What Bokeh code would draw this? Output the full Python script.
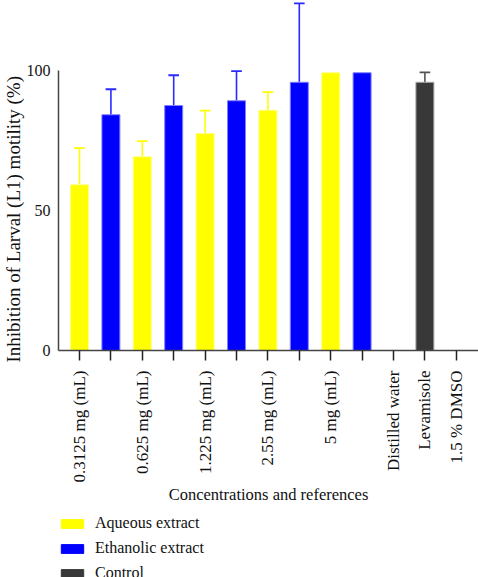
from bokeh.plotting import figure
from bokeh.models import (ColumnDataSource, FixedTicker, Legend, LegendItem,
                          Whisker, Range1d, Title)
from bokeh.layouts import column
from bokeh.embed import file_html
from bokeh.resources import INLINE

# ---- data ----
concentrations = ["0.3125 mg (mL)", "0.625 mg (mL)", "1.225 mg (mL)", "2.55 mg (mL)", "5 mg (mL)"]
aqueous = [59.2, 69.2, 77.5, 85.8, 99.2]
aqueous_err = [13.1, 5.6, 8.2, 6.5, 0.0]
ethanolic = [84.2, 87.5, 89.2, 95.8, 99.2]
ethanolic_err = [9.1, 10.8, 10.6, 28.2, 0.0]
references = ["Distilled water", "Levamisole", "1.5 % DMSO"]
control = [0.0, 95.8, 0.0]
control_err = [0.0, 3.5, 0.0]
y_ticks = [0, 50, 100]
legend_names = ["Aqueous extract", "Ethanolic extract", "Control"]

FONT = "Liberation Serif"
YELLOW = "#ffff00"
BLUE = "#0000ff"
DARK = "#383838"

# slot positions derived from list order
n = len(concentrations)
x_aq = [2 * i + 1 for i in range(n)]
x_et = [2 * i + 2 for i in range(n)]
x_ref = [2 * n + 1 + i for i in range(len(references))]
all_ticks = list(range(1, 2 * n + len(references) + 1))
labels = {}
for x, c in zip(x_aq, concentrations):
    labels[x] = c
for x in x_et:
    labels[x] = ""
for x, r in zip(x_ref, references):
    labels[x] = r

p = figure(frame_width=420, frame_height=350, output_backend="svg", toolbar_location=None,
           x_range=Range1d(0.331, 13.707), y_range=Range1d(0, 125),
           min_border_left=58, min_border_right=0, min_border_top=0, min_border_bottom=0)
p.outline_line_color = None
p.grid.grid_line_color = None

src_aq = ColumnDataSource(dict(x=x_aq, top=aqueous, upper=[a + e for a, e in zip(aqueous, aqueous_err)]))
src_et = ColumnDataSource(dict(x=x_et, top=ethanolic, upper=[a + e for a, e in zip(ethanolic, ethanolic_err)]))
src_ct = ColumnDataSource(dict(x=x_ref, top=control, upper=[a + e for a, e in zip(control, control_err)]))

W = 0.573
bar_styles = [(src_aq, YELLOW, "#ffff88", YELLOW),
              (src_et, BLUE, "#8080ff", "#2a2aff"),
              (src_ct, DARK, "#aaaaaa", "#555555")]
for src, fill, edge, errc in bar_styles:
    p.vbar(x="x", top="top", width=W, source=src, fill_color=fill,
           line_color=edge, line_width=1)
    w = Whisker(base="x", upper="upper", lower="top", source=src, dimension="height",
                line_color=errc, line_width=1.6, upper_head=None, lower_head=None)
    p.add_layout(w)
    d = src.data
    xs = [x for x, t, u in zip(d["x"], d["top"], d["upper"]) if u > t]
    us = [u for t, u in zip(d["top"], d["upper"]) if u > t]
    p.segment(x0=[x - 0.17 for x in xs], x1=[x + 0.17 for x in xs], y0=us, y1=us,
              line_color=errc, line_width=1.8)

# y axis
p.yaxis.ticker = FixedTicker(ticks=y_ticks)
p.yaxis.bounds = (0, 100)
p.yaxis.major_tick_line_color = None
p.yaxis.major_tick_out = 0
p.yaxis.major_tick_in = 0
p.yaxis.minor_tick_line_color = None
p.yaxis.axis_line_color = "#444444"
p.yaxis.axis_line_width = 1.5
p.yaxis.major_label_text_font = FONT
p.yaxis.major_label_text_font_size = "16px"
p.yaxis.major_label_text_color = "#111111"
p.yaxis.major_label_standoff = 8

ytitle = Title(text="Inhibition of Larval (L1) motility (%)", align="left", offset=-12,
               text_font=FONT, text_font_style="normal", text_font_size="19px",
               text_color="#111111", standoff=0)
p.add_layout(ytitle, "left")

# x axis
p.xaxis.ticker = FixedTicker(ticks=all_ticks)
p.xaxis.major_label_overrides = labels
p.xaxis.major_label_orientation = 3.14159265 / 2
p.xaxis.minor_tick_line_color = None
p.xaxis.major_tick_in = 0
p.xaxis.major_tick_out = 10
p.xaxis.major_tick_line_color = "#222222"
p.xaxis.major_tick_line_width = 1.5
p.xaxis.axis_line_color = "#444444"
p.xaxis.axis_line_width = 1.5
p.xaxis.major_label_text_font = FONT
p.xaxis.major_label_text_font_size = "17px"
p.xaxis.major_label_text_color = "#111111"
p.xaxis.major_label_standoff = 10
p.xaxis.axis_label = "Concentrations and references"
p.xaxis.axis_label_text_font = FONT
p.xaxis.axis_label_text_font_style = "normal"
p.xaxis.axis_label_text_font_size = "16.5px"
p.xaxis.axis_label_text_color = "#111111"
p.xaxis.axis_label_standoff = 0

# legend in its own strip below the chart (frame aligned with the chart frame)
lf = figure(width=478, height=76, output_backend="svg", toolbar_location=None,
            x_range=Range1d(0, 1), y_range=Range1d(0, 1), min_border=0,
            x_axis_location=None, y_axis_location=None)
lf.grid.grid_line_color = None
lf.outline_line_color = None
items = []
for name, (src, fill, edge, errc) in zip(legend_names, bar_styles):
    rr = lf.vbar(x=[5], top=[5], width=0.5, fill_color=fill, line_color=fill)
    items.append(LegendItem(label=name, renderers=[rr]))
legend = Legend(items=items, location=(0, 1), orientation="vertical",
                glyph_width=28, glyph_height=11, label_height=14,
                label_text_font=FONT, label_text_font_size="16px",
                label_text_color="#111111",
                label_standoff=9, spacing=7, padding=0, margin=0,
                border_line_color=None, background_fill_alpha=0)
lf.add_layout(legend)

layout = column(p, lf, spacing=0)
open("out.html", "w").write(file_html(layout, INLINE))
